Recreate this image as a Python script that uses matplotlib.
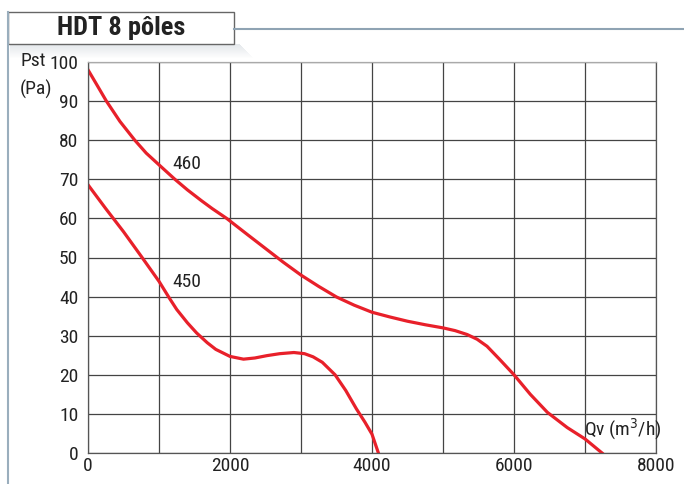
import matplotlib.pyplot as plt
import matplotlib.patches as patches
from matplotlib import font_manager

# curve data
q_460 = [0, 130, 259, 450, 659, 820, 1000, 1224, 1400, 1600, 1750, 1953, 2250, 2500, 2750, 3000, 3250,
         3500, 3750, 4000, 4250, 4500, 4750, 5000, 5170, 5340, 5480, 5620, 5800, 6000, 6230, 6470, 6750,
         7000, 7240]
p_460 = [98.0, 94.0, 90.0, 84.8, 80.0, 76.7, 73.7, 70.0, 67.3, 64.5, 62.5, 60.0, 55.8, 52.3, 48.8, 45.5, 42.6,
         39.9, 37.8, 36.0, 34.8, 33.7, 32.8, 32.0, 31.3, 30.3, 29.1, 27.3, 23.9, 20.0, 15.0, 10.4, 6.5,
         3.6, 0]
q_450 = [0, 250, 500, 750, 1000, 1150, 1250, 1400, 1530, 1680, 1800, 2000, 2190, 2350, 2520, 2700, 2900,
         3050, 3170, 3300, 3480, 3630, 3780, 3900, 4000, 4090]
p_450 = [68.6, 62.5, 56.6, 50.3, 43.9, 39.5, 36.7, 33.3, 30.7, 28.2, 26.5, 24.7, 24.0, 24.3, 24.9, 25.4, 25.7,
         25.4, 24.6, 23.2, 20.0, 16.0, 11.3, 7.9, 4.8, 0]

x_ticks = [0, 2000, 4000, 6000, 8000]
y_ticks = [0, 10, 20, 30, 40, 50, 60, 70, 80, 90, 100]

# pick a condensed family that has a regular weight
regular = {}
for f in font_manager.fontManager.ttflist:
    if f.weight in (400, 'normal', 'regular') and f.style == 'normal':
        regular[f.name] = True
fam = 'DejaVu Sans'
for cand in ['Liberation Sans Narrow', 'Roboto Condensed', 'DejaVu Sans Condensed', 'Open Sans Condensed']:
    if cand in regular:
        fam = cand
        break
plt.rcParams['font.family'] = [fam, 'DejaVu Sans']
plt.rcParams['font.stretch'] = 'condensed'

W, H = 684, 484
fig = plt.figure(figsize=(6.84, 4.84), dpi=100)
ax = fig.add_axes([88/W, (H-453)/H, (656-88)/W, (453-62)/H])

ax.plot(q_460, p_460, color='#e8202a', lw=2.3, solid_joinstyle='round')
ax.plot(q_450, p_450, color='#e8202a', lw=2.3, solid_joinstyle='round')

ax.set_xlim(0, 8000)
ax.set_ylim(0, 100)
ax.set_xticks(range(0, 8001, 1000))
ax.set_xticklabels([str(v) if v in x_ticks else '' for v in range(0, 8001, 1000)])
ax.set_yticks(y_ticks)
ax.set_yticklabels([str(v) for v in y_ticks])
ax.grid(True, color='#444444', lw=0.9)
ax.tick_params(length=0, labelsize=14, colors='#222222')
ax.tick_params(axis='y', pad=7)
ax.tick_params(axis='x', pad=3)
for s in ax.spines.values():
    s.set_color('#555555')
    s.set_linewidth(0.9)
ax.spines['top'].set_color('#aaaaaa')

ax.text(1190, 73.8, '460', fontsize=14, color='#222222', va='center')
ax.text(1190, 43.8, '450', fontsize=14, color='#222222', va='center')
ax.text(6990, 6.0, 'Qv (m$^3$/h)', fontsize=14, color='#222222', va='center')

fig.text(20/W, 1-61/H, 'Pst', fontsize=14, color='#222222', va='center')
fig.text(20/W, 1-89/H, '(Pa)', fontsize=14, color='#222222', va='center')

# header box, shadow and frame lines
for i in range(14):
    fig.patches.append(patches.Rectangle((10/W, (H-45-i)/H), (230+i)/W, 1/H,
                                         transform=fig.transFigure, color='#6a7f90',
                                         alpha=0.18*(1-i/14), lw=0))
fig.add_artist(plt.Line2D([8/W, 8/W], [0, 1-12/H], color='#9aaebd', lw=1.5))
fig.add_artist(plt.Line2D([234/W, 1], [1-29/H, 1-29/H], color='#8fa3b3', lw=1.5))
fig.patches.append(patches.Rectangle((8/W, 1-44/H), 226/W, 32/H, transform=fig.transFigure,
                                     facecolor='white', edgecolor='#666666', lw=1.0))
fig.text(121/W, 1-28/H, 'HDT 8 pôles', fontsize=19, fontweight='bold', color='#222222',
         ha='center', va='center')

fig.savefig('out.png', dpi=100)
